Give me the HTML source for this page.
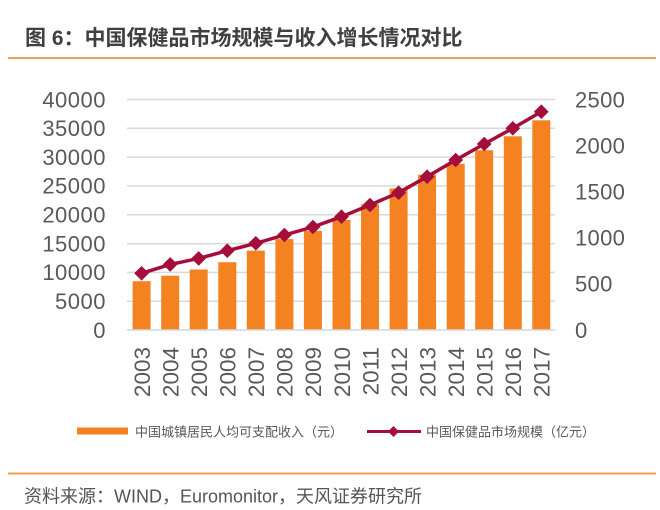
<!DOCTYPE html>
<html><head><meta charset="utf-8"><style>
html,body{margin:0;padding:0;background:#fff;}
svg{display:block;}
</style></head><body>
<svg width="660" height="510" viewBox="0 0 660 510" xmlns="http://www.w3.org/2000/svg">
<rect width="660" height="510" fill="#fff"/>
<text x="25" y="45" font-family="'Liberation Sans','Noto Sans CJK SC',sans-serif" font-weight="bold" font-size="21" fill="#404040">图 6：中国保健品市场规模与收入增长情况对比</text>
<line x1="8" y1="58" x2="656" y2="58" stroke="#e9a35e" stroke-width="2"/>
<g stroke="#d9d9d9" stroke-width="1.5">
<line x1="127" y1="99.5" x2="555" y2="99.5"/>
<line x1="127" y1="128.3" x2="555" y2="128.3"/>
<line x1="127" y1="157.1" x2="555" y2="157.1"/>
<line x1="127" y1="185.9" x2="555" y2="185.9"/>
<line x1="127" y1="214.8" x2="555" y2="214.8"/>
<line x1="127" y1="243.6" x2="555" y2="243.6"/>
<line x1="127" y1="272.4" x2="555" y2="272.4"/>
<line x1="127" y1="301.2" x2="555" y2="301.2"/>
</g>
<g fill="#f58220">
<rect x="132.6" y="281.2" width="18" height="48.8"/>
<rect x="161.2" y="275.7" width="18" height="54.3"/>
<rect x="189.7" y="269.5" width="18" height="60.5"/>
<rect x="218.3" y="262.2" width="18" height="67.8"/>
<rect x="246.8" y="250.6" width="18" height="79.4"/>
<rect x="275.4" y="239.1" width="18" height="90.9"/>
<rect x="303.9" y="231.0" width="18" height="99.0"/>
<rect x="332.5" y="219.9" width="18" height="110.1"/>
<rect x="361.0" y="204.3" width="18" height="125.7"/>
<rect x="389.6" y="188.4" width="18" height="141.6"/>
<rect x="418.1" y="174.7" width="18" height="155.3"/>
<rect x="446.7" y="163.8" width="18" height="166.2"/>
<rect x="475.2" y="150.2" width="18" height="179.8"/>
<rect x="503.8" y="136.3" width="18" height="193.7"/>
<rect x="532.3" y="120.3" width="18" height="209.7"/>
</g>
<line x1="127" y1="330" x2="555" y2="330" stroke="#d3d9e0" stroke-width="1.5"/>
<polyline fill="none" stroke="#a50d3a" stroke-width="3.5" stroke-linejoin="round" points="141.6,273.3 170.2,264.4 198.7,258.4 227.3,250.7 255.8,243.3 284.4,235.0 312.9,227.0 341.5,216.7 370.0,205.0 398.6,192.7 427.1,176.7 455.7,160.0 484.2,144.0 512.8,128.3 541.3,111.7"/>
<g fill="#a50d3a">
<polygon points="141.6,266 149,273.3 141.6,280.6 134.2,273.3"/>
<polygon points="170.2,257.1 177.6,264.4 170.2,271.7 162.8,264.4"/>
<polygon points="198.7,251.1 206.1,258.4 198.7,265.7 191.3,258.4"/>
<polygon points="227.3,243.4 234.7,250.7 227.3,258 219.9,250.7"/>
<polygon points="255.8,236 263.2,243.3 255.8,250.6 248.4,243.3"/>
<polygon points="284.4,227.7 291.8,235 284.4,242.3 277,235"/>
<polygon points="312.9,219.7 320.3,227 312.9,234.3 305.5,227"/>
<polygon points="341.5,209.4 348.9,216.7 341.5,224 334.1,216.7"/>
<polygon points="370,197.7 377.4,205 370,212.3 362.6,205"/>
<polygon points="398.6,185.4 406,192.7 398.6,200 391.2,192.7"/>
<polygon points="427.1,169.4 434.5,176.7 427.1,184 419.7,176.7"/>
<polygon points="455.7,152.7 463.1,160 455.7,167.3 448.3,160"/>
<polygon points="484.2,136.7 491.6,144 484.2,151.3 476.8,144"/>
<polygon points="512.8,121 520.2,128.3 512.8,135.6 505.4,128.3"/>
<polygon points="541.3,104.4 548.7,111.7 541.3,119 533.9,111.7"/>
</g>
<g font-family="'Liberation Sans',sans-serif" font-size="22" fill="#595959" text-anchor="end" letter-spacing="0.5">
<text x="106" y="107.3">40000</text>
<text x="106" y="136.1">35000</text>
<text x="106" y="164.9">30000</text>
<text x="106" y="193.7">25000</text>
<text x="106" y="222.6">20000</text>
<text x="106" y="251.4">15000</text>
<text x="106" y="280.2">10000</text>
<text x="106" y="309">5000</text>
<text x="106" y="337.8">0</text>
</g>
<g font-family="'Liberation Sans',sans-serif" font-size="22" fill="#595959" text-anchor="start" letter-spacing="0.3">
<text x="575" y="107.3">2500</text>
<text x="575" y="153.4">2000</text>
<text x="575" y="199.5">1500</text>
<text x="575" y="245.6">1000</text>
<text x="575" y="291.7">500</text>
<text x="575" y="337.8">0</text>
</g>
<g font-family="'Liberation Sans',sans-serif" font-size="22.5" fill="#595959" text-anchor="end">
<text transform="translate(149.9,347) rotate(-90)">2003</text>
<text transform="translate(178.5,347) rotate(-90)">2004</text>
<text transform="translate(207,347) rotate(-90)">2005</text>
<text transform="translate(235.6,347) rotate(-90)">2006</text>
<text transform="translate(264.1,347) rotate(-90)">2007</text>
<text transform="translate(292.7,347) rotate(-90)">2008</text>
<text transform="translate(321.2,347) rotate(-90)">2009</text>
<text transform="translate(349.8,347) rotate(-90)">2010</text>
<text transform="translate(378.3,347) rotate(-90)">2011</text>
<text transform="translate(406.9,347) rotate(-90)">2012</text>
<text transform="translate(435.4,347) rotate(-90)">2013</text>
<text transform="translate(464,347) rotate(-90)">2014</text>
<text transform="translate(492.5,347) rotate(-90)">2015</text>
<text transform="translate(521.1,347) rotate(-90)">2016</text>
<text transform="translate(549.6,347) rotate(-90)">2017</text>
</g>
<rect x="77" y="427.5" width="51" height="7" fill="#f58220"/>
<text x="135" y="436.5" font-family="'Liberation Sans','Noto Sans CJK SC',sans-serif" font-size="13" fill="#595959">中国城镇居民人均可支配收入（元）</text>
<line x1="367" y1="431.5" x2="421" y2="431.5" stroke="#a50d3a" stroke-width="3"/>
<polygon points="393.5,426 399,431.5 393.5,437 388,431.5" fill="#a50d3a"/>
<text x="426" y="436.5" font-family="'Liberation Sans','Noto Sans CJK SC',sans-serif" font-size="13" fill="#595959">中国保健品市场规模（亿元）</text>
<line x1="8" y1="473.5" x2="656" y2="473.5" stroke="#f0a04b" stroke-width="2"/>
<text x="24" y="502.5" font-family="'Liberation Sans','Noto Sans CJK SC',sans-serif" font-size="18" fill="#555555">资料来源：WIND，Euromonitor，天风证券研究所</text>
</svg>
</body></html>
